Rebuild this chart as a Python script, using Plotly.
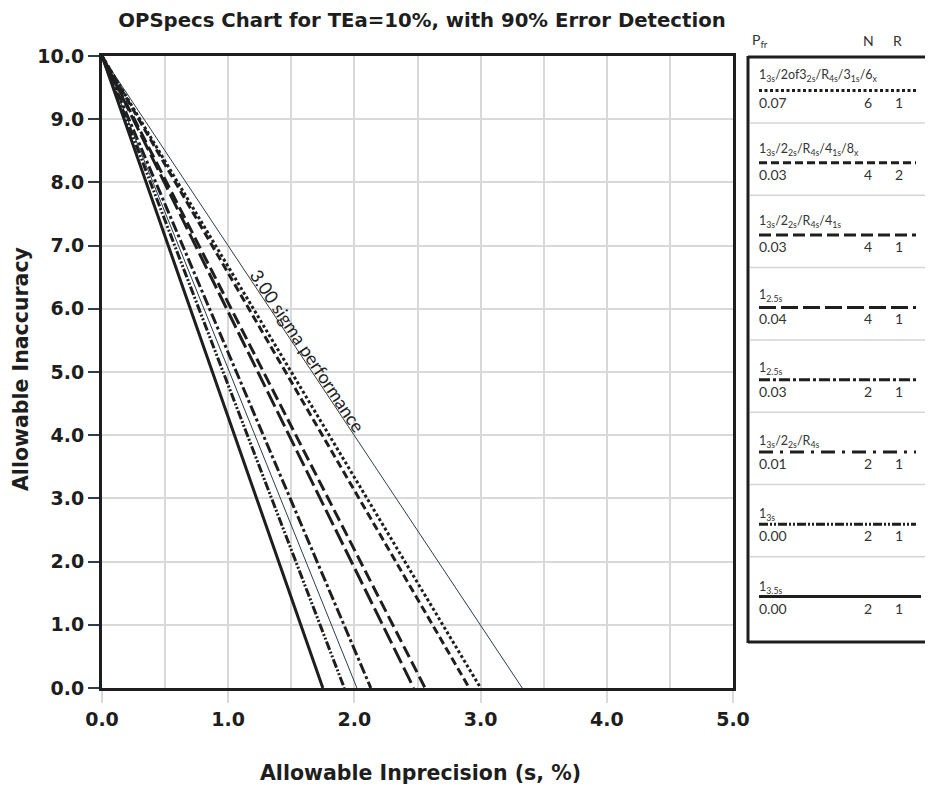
import plotly.graph_objects as go

# ---- data ----
rule_labels = [
    "1<sub>3s</sub>/2of3<sub>2s</sub>/R<sub>4s</sub>/3<sub>1s</sub>/6<sub>x</sub>",
    "1<sub>3s</sub>/2<sub>2s</sub>/R<sub>4s</sub>/4<sub>1s</sub>/8<sub>x</sub>",
    "1<sub>3s</sub>/2<sub>2s</sub>/R<sub>4s</sub>/4<sub>1s</sub>",
    "1<sub>2.5s</sub>",
    "1<sub>2.5s</sub>",
    "1<sub>3s</sub>/2<sub>2s</sub>/R<sub>4s</sub>",
    "1<sub>3s</sub>",
    "1<sub>3.5s</sub>",
]
pfr = ["0.07", "0.03", "0.03", "0.04", "0.03", "0.01", "0.00", "0.00"]
n_vals = [6, 4, 4, 4, 2, 2, 2, 2]
r_vals = [1, 2, 1, 1, 1, 1, 1, 1]
x_intercepts = [3.00, 2.91, 2.56, 2.47, 2.13, 2.02, 1.92, 1.75]
y_start = 10.0
sigma_intercept = 3.33
sigma_label = "3.00 sigma performance"
x_ticks = [0, 1, 2, 3, 4, 5]
y_ticks = [0, 1, 2, 3, 4, 5, 6, 7, 8, 9, 10]

# ---- styles ----
DARK = "#1e1e1e"
NAVY = "#2c3e50"
chart_dash = ["3px,2.5px", "8px,4px", "12px,5px", "17px,5px",
              "11px,3px,3px,3px", "solid", "9px,2px,2px,2px,2px,2px", "solid"]
chart_width = [3, 3, 3, 3, 3, 1, 3, 3]
chart_color = [DARK, DARK, DARK, DARK, DARK, NAVY, DARK, DARK]
legend_dash = ["3px,2.5px", "8px,4px", "12px,5px", "17px,5px",
               "11px,3px,3px,3px", "14px,7px,3px,7px", "9px,2px,2px,2px,2px,2px", "solid"]

BOLD_FONT = "DejaVu Sans"
LIGHT_FONT = "Lato"
W, H = 933, 793
OFF = 8  # page body margin offset
# plot area in page pixel coordinates
L, R, T, B = 102, 733, 56, 688


def px(xp):
    return (xp - L) / (R - L)


def py(yp):
    return (B - yp) / (B - T)


fig = go.Figure()

fig.add_trace(go.Scatter(x=[0, sigma_intercept], y=[y_start, 0], mode="lines",
                         line=dict(color=NAVY, width=1), showlegend=False, hoverinfo="skip"))
for i in range(len(x_intercepts)):
    fig.add_trace(go.Scatter(x=[0, x_intercepts[i]], y=[y_start, 0], mode="lines",
                             line=dict(color=chart_color[i], width=chart_width[i], dash=chart_dash[i]),
                             showlegend=False, hoverinfo="skip"))

fig.add_annotation(x=1.63, y=5.33, xref="x", yref="y", text=sigma_label, showarrow=False,
                   textangle=56.4, font=dict(family=LIGHT_FONT, size=18, color="#222"))

shapes = []
annos = []
shapes.append(dict(type="line", xref="paper", yref="paper", x0=px(748), x1=px(748), y0=py(56), y1=py(643),
                   line=dict(color=DARK, width=3)))
shapes.append(dict(type="line", xref="paper", yref="paper", x0=px(748), x1=px(945), y0=py(57), y1=py(57),
                   line=dict(color=DARK, width=3)))
shapes.append(dict(type="line", xref="paper", yref="paper", x0=px(748), x1=px(945), y0=py(642), y1=py(642),
                   line=dict(color=DARK, width=3)))

hdr_font = dict(family=LIGHT_FONT, size=14, color="#333")
annos.append(dict(x=px(750), y=py(40), xref="paper", yref="paper", text="P<sub>fr</sub>", showarrow=False,
                  xanchor="left", yanchor="middle", font=hdr_font))
annos.append(dict(x=px(868), y=py(40), xref="paper", yref="paper", text="N", showarrow=False,
                  xanchor="center", yanchor="middle", font=hdr_font))
annos.append(dict(x=px(898), y=py(40), xref="paper", yref="paper", text="R", showarrow=False,
                  xanchor="center", yanchor="middle", font=hdr_font))

step = 72.3
for i in range(len(rule_labels)):
    ly = 74 + i * 73
    liney = 90.5 + i * step
    ny = 102 + i * step
    if i < len(rule_labels) - 1:
        sy = 123 + i * step
        shapes.append(dict(type="line", xref="paper", yref="paper", x0=px(750), x1=px(945), y0=py(sy), y1=py(sy),
                           line=dict(color="#d6d6d6", width=1.5)))
    x_end = 921 if legend_dash[i] == "solid" else 916
    shapes.append(dict(type="line", xref="paper", yref="paper", x0=px(759), x1=px(x_end), y0=py(liney), y1=py(liney),
                       line=dict(color=DARK, width=3, dash=legend_dash[i])))
    annos.append(dict(x=px(757), y=py(ly + 2), xref="paper", yref="paper", text=rule_labels[i], showarrow=False,
                      xanchor="left", yanchor="middle", font=dict(family=LIGHT_FONT, size=12.5, color="#333")))
    annos.append(dict(x=px(757), y=py(ny), xref="paper", yref="paper", text=pfr[i], showarrow=False,
                      xanchor="left", yanchor="middle", font=hdr_font))
    annos.append(dict(x=px(868), y=py(ny), xref="paper", yref="paper", text=str(n_vals[i]), showarrow=False,
                      xanchor="center", yanchor="middle", font=hdr_font))
    annos.append(dict(x=px(899), y=py(ny), xref="paper", yref="paper", text=str(r_vals[i]), showarrow=False,
                      xanchor="center", yanchor="middle", font=hdr_font))

annos.append(dict(x=px(421), y=py(773), xref="paper", yref="paper", text="Allowable Inprecision (s, %)",
                  showarrow=False, xanchor="center", yanchor="middle",
                  font=dict(family=BOLD_FONT, size=20.5, color="#1e1e1e", weight="bold")))
annos.append(dict(x=px(21), y=py(369), xref="paper", yref="paper", text="Allowable Inaccuracy",
                  showarrow=False, xanchor="center", yanchor="middle", textangle=-90,
                  font=dict(family=BOLD_FONT, size=20.5, color="#1e1e1e", weight="bold")))

for a in annos:
    fig.add_annotation(**a)

fig.update_layout(
    width=W, height=H,
    margin=dict(l=L - OFF, r=W - (R - OFF), t=T - OFF, b=H - (B - OFF)),
    paper_bgcolor="white", plot_bgcolor="white",
    shapes=shapes,
    title=dict(text="OPSpecs Chart for TEa=10%, with 90% Error Detection", x=(422 - OFF) / W, xanchor="center",
               y=1 - (20 - OFF) / H, yanchor="middle",
               font=dict(family=BOLD_FONT, size=19.7, color="#1e1e1e", weight="bold")),
    showlegend=False,
)
fig.update_xaxes(range=[0, 5], tickvals=x_ticks, ticktext=[f"{v:.1f}" for v in x_ticks],
                 showgrid=True, gridcolor="#d9d9d9", gridwidth=2,
                 minor=dict(dtick=0.5, tick0=0, showgrid=True, gridcolor="#d9d9d9", gridwidth=2),
                 ticks="outside", ticklen=12, tickwidth=2, tickcolor="#d9d9d9",
                 showline=True, mirror=True, linecolor=DARK, linewidth=3, zeroline=False,
                 tickfont=dict(family=BOLD_FONT, size=19, color="#1e1e1e", weight="bold"))
fig.update_yaxes(range=[0, 10], tickvals=y_ticks, ticktext=[f"{v:.1f}" for v in y_ticks],
                 showgrid=True, gridcolor="#d9d9d9", gridwidth=2,
                 ticks="outside", ticklen=11, tickwidth=2, tickcolor=NAVY,
                 showline=True, mirror=True, linecolor=DARK, linewidth=3, zeroline=False,
                 tickfont=dict(family=BOLD_FONT, size=19, color="#1e1e1e", weight="bold"))

fig.write_html("out.html")
